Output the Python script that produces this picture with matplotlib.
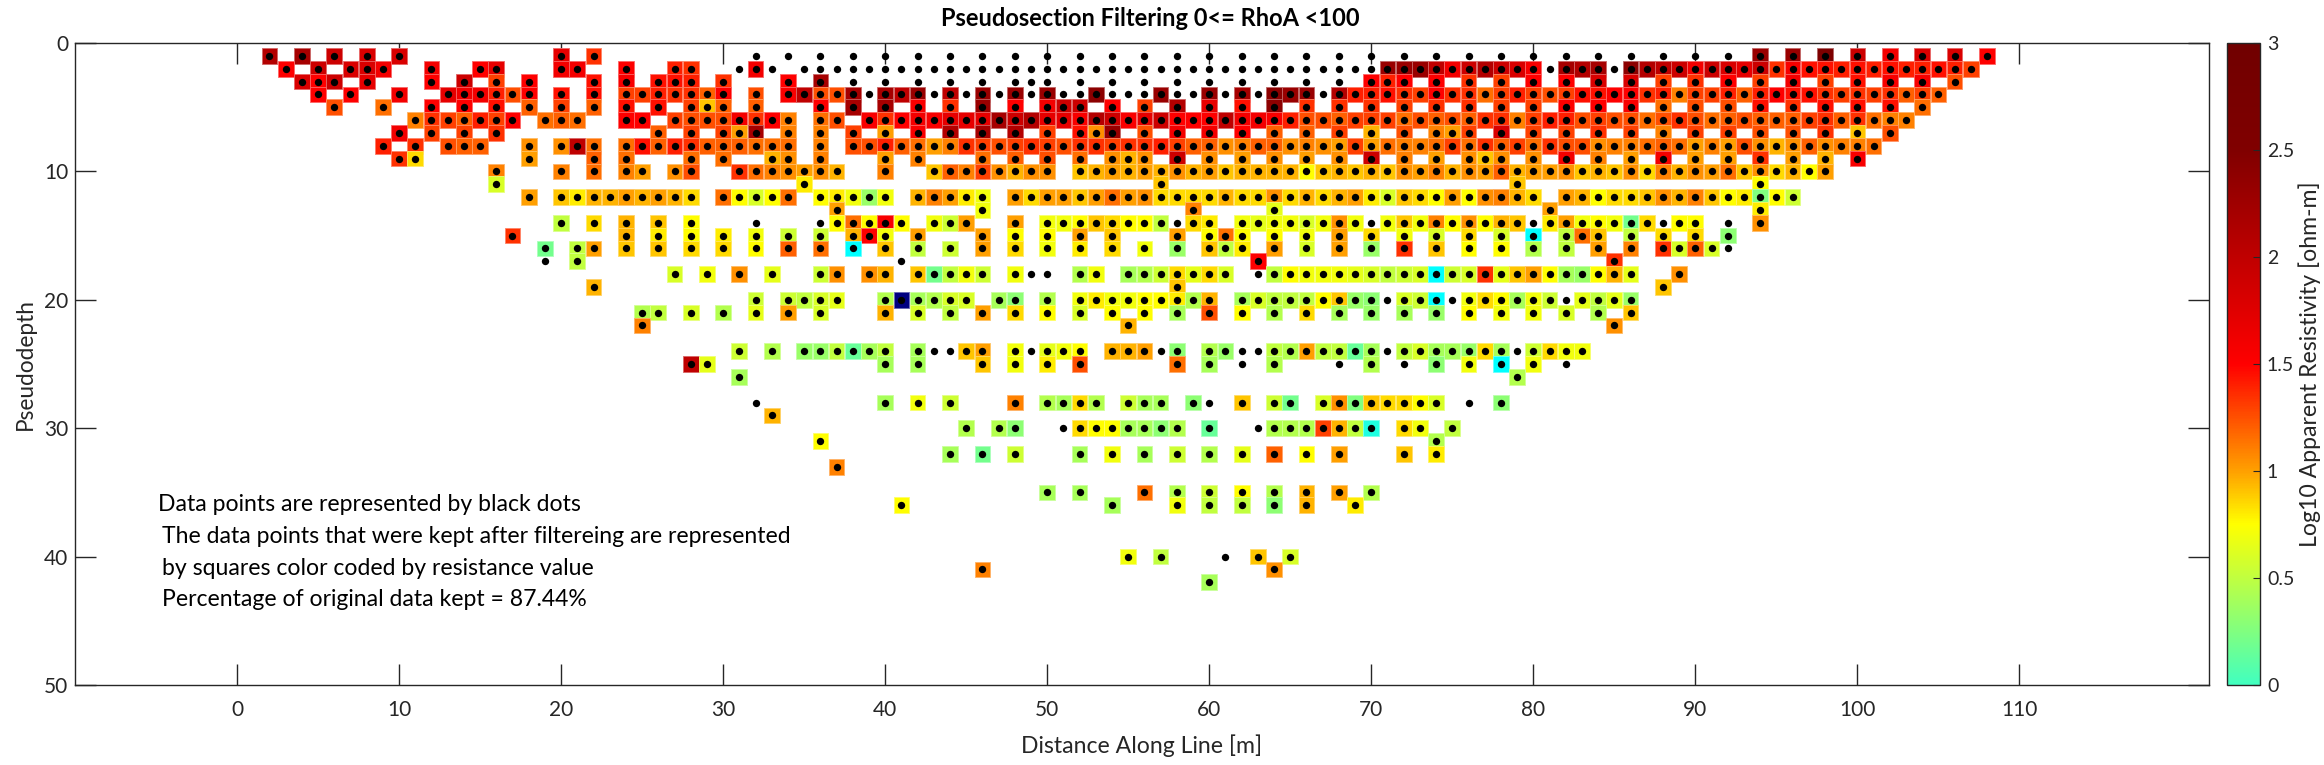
# -*- coding: utf-8 -*-
import numpy as np
import matplotlib
matplotlib.use("Agg")
import matplotlib.pyplot as plt
from matplotlib.colors import LinearSegmentedColormap, Normalize

plt.rcParams['font.family'] = ['Lato', 'DejaVu Sans']

n = np.nan  # data point thrown out by the filter, only the black dot is left

# log10 apparent resistivity read row by row, one pair of lists per pseudodepth
r01_x = [2, 4, 6, 8, 10, 20, 22, 32, 34, 36, 38, 40, 42, 44, 46, 48, 50, 52, 54, 56, 58, 60, 62, 64, 66, 68, 70, 72, 74, 76, 78, 80, 82, 84, 86, 88, 90, 92, 94, 96, 98, 100, 102, 104, 106, 108]
r01_v = [2.1, 2.2, 1.9, 1.8, 1.8, 1.7, 1.35, n, n, n, n, n, n, n, n, n, n, n, n, n, n, n, n, n, n, n, n, n, n, n, n, n, n, n, n, n, n, n, 2.3, 2.3, 2.6, 1.9, 1.6, 1.8, 1.8, 1.5]
r02_x = [3, 5, 7, 8, 9, 12, 15, 16, 20, 21, 24, 27, 28, 31, 32, 33, 35, 36, 37] + list(range(38, 108))
r02_v = [1.5, 1.9, 1.8, 1.8, 1.6, 1.6, 1.5, 1.7, 1.6, 1.6, 1.5, 1.4, 1.35, n, 1.6, n, n, n, n] + [n] * 33 + [2.3, 2.3, 2.3, 2.0, 1.6, 1.9, 2.1, 1.9, 1.8, 1.55, n, 2.2, 2.1, 2.2, n, 2.4, 2.1, 2.0, 1.9, 1.6, 1.9, 1.8, 1.7, 1.9, 1.35, 1.55, 1.45, 1.45, 1.4, 1.45, 1.4, 1.45, 1.4, 1.4, 1.45, 1.4, 1.3]
r03_x = [4, 5, 6, 8, 12, 14, 16, 18, 22, 24, 26, 27, 28, 30, 34, 36, 38, 40, 42, 44, 46, 48, 49, 50, 52, 54, 56, 58, 60, 62, 64, 66, 68, 70, 71, 72, 74, 76, 78, 80, 82, 84, 86, 88, 90, 92, 94, 96, 98, 100, 102, 104, 106]
r03_v = [1.8, 1.5, 1.9, 1.7, 1.5, 1.9, 1.3, 1.5, 1.45, 1.55, 1.45, 1.45, 1.4, 1.35, 1.5, 2.2, n, n, n, n, n, n, n, n, n, n, n, n, n, n, n, n, n, 1.5, 1.4, 1.5, 1.5, 1.35, 1.3, 1.5, 1.5, 1.8, 1.8, 1.3, 1.35, 1.5, 1.3, 1.6, 1.3, 1.45, 1.55, 1.55, 1.25]
r04_x = [5, 7, 10, 13, 14, 15, 16, 17, 18, 20, 22, 24, 25, 26, 27, 28, 29, 30, 32] + list(range(34, 106))
r04_v = [1.5, 1.5, 1.6, 1.7, 1.6, 1.6, 1.4, 1.25, 1.5, 1.45, 1.45, 1.3, 1.3, 1.4, 1.35, 1.35, 1.2, 1.5, 1.25,
         1.55, 2.0, 1.25, 1.25, 2.2, n, 2.2, 2.0, 2.3, n, 2.0, n, 2.3, n, 2.3, n, 2.3, n, n, 2.4, n, n, n, 2.3, n, n, 2.3, n, 2.2, n, 2.4, 2.3, 2.3, n, 2.1, 1.4, 1.4, 1.45, 1.35, 1.3, 1.5, 1.35, 1.35, 1.15, 1.3, 1.4, 1.3, 1.25, 1.3, 1.45, 1.45, 1.5, 1.5, 1.35, 1.4, 1.1, 1.3, 1.3, 1.4, 1.2, 1.4, 1.5, 1.45, 1.45, 1.35, 1.3, 1.35, 1.3, 1.35, 1.2, 1.3, 1.2]
r05_x = [6, 9, 12, 14, 16, 18, 20, 22, 24, 26, 28, 29, 30, 32, 36, 38, 40, 42, 44, 46, 48, 50, 51, 52, 54, 56, 58, 60, 62, 64, 66, 68, 70, 72, 74, 76, 78, 80, 82, 84, 86, 88, 90, 92, 94, 96, 98, 100, 102, 104]
r05_v = [1.25, 1.15, 1.5, 1.5, 1.45, 1.2, 1.3, 1.2, 1.45, 1.45, 1.3, 0.9, 1.2, 1.2, 1.5, 2.2, 2.2, 1.55, 1.35, 2.3, 1.5, 1.6, 1.9, 1.9, 1.5, 1.3, 2.1, 1.7, 1.45, 2.4, 1.35, 1.35, 1.35, 1.3, 1.35, 1.35, 1.3, 1.3, 1.5, 1.5, 1.55, 1.15, 1.25, 1.25, 1.45, 1.35, 1.45, 1.45, 1.45, 1.15]
r06_x = [11, 12, 13, 14, 15, 16, 17, 19, 20, 21, 24, 25, 27, 28, 29, 30, 31, 32, 33, 34, 36, 37] + list(range(39, 104))
r06_v = [1.1, 1.35, 1.3, 1.2, 1.4, 1.3, 1.5, 1.15, 1.2, 1.15, 1.5, 1.5, 1.3, 1.25, 1.25, 1.25, 1.6, 1.35, 1.5, 1.1, 1.15, 1.25,
         1.55, 1.35, 1.5, 1.6, 1.55, 1.7, 1.7, 1.7, 2.2, 1.9, 2.1, 1.7, 1.7, 1.55, 2.1, 1.9, 1.55, 1.7, 1.9, 1.5, 1.5, 1.5, 2.0, 1.6, 1.6, 1.55, 1.4, 1.25, 1.25, 1.2, 1.3, 1.3, 1.3, 1.15, 1.25, 1.2, 1.25, 1.2, 1.35, 1.35, 1.1, 1.3, 1.4, 1.4, 1.25, 1.3, 1.25, 1.25, 1.15, 1.25, 1.35, 1.25, 1.15, 1.2, 1.25, 1.2, 1.2, 1.2, 1.3, 1.35, 1.2, 1.35, 1.15, 1.1, 1.1]
r07_x = [10, 12, 14, 16, 26, 28, 30, 31, 32, 34, 36, 38, 40, 42, 44, 46, 48, 50, 52, 53, 54, 56, 58, 60, 62, 64, 66, 68, 70, 72, 74, 75, 76, 78, 80, 82, 84, 86, 88, 90, 92, 94, 96, 98, 100, 102]
r07_v = [1.6, 1.3, 1.3, 1.35, 1.2, 1.3, 1.3, 1.0, 2.2, 1.1, 1.1, 1.3, 1.0, 1.55, 2.1, 2.2, 2.1, 1.3, 1.45, 1.05, 2.3, 1.25, 1.6, 1.6, 1.5, 1.2, 1.2, 1.3, 0.95, 1.25, 1.1, 1.0, 1.3, 1.8, 1.3, 1.3, 1.35, 1.3, 1.1, 1.3, 1.3, 1.25, 1.25, 1.35, 0.9, 1.25]
r08_x = [9, 11, 13, 14, 15, 18, 20, 21, 22, 24, 25, 26, 27, 28, 29, 30, 31, 32, 33, 34, 36] + list(range(38, 102))
r08_v = [1.4, 1.35, 1.25, 1.2, 1.2, 1.05, 1.05, 2.0, 1.15, 1.15, 1.45, 1.2, 1.4, 1.35, 1.2, 1.2, 1.2, 1.15, 1.15, 1.15, 1.1,
         1.25, 1.25, 1.4, 1.2, 1.15, 1.0, 1.1, 1.35, 1.3, 1.25, 1.3, 1.35, 1.3, 1.25, 1.35, 1.35, 1.3, 1.35, 1.35, 1.4, 1.3, 1.2, 1.2, 1.05, 1.1, 1.2, 1.2, 1.05, 1.1, 1.05, 1.0, 1.3, 1.0, 1.15, 1.1, 1.1, 1.15, 1.3, 1.15, 1.35, 1.2, 1.3, 1.15, 1.35, 1.25, 1.25, 1.05, 1.1, 1.1, 1.15, 1.2, 1.15, 1.0, 1.1, 1.0, 1.25, 1.05, 0.95, 1.05, 1.2, 1.05, 1.1, 1.1, 1.15]
r09_x = [10, 11, 18, 22, 24, 28, 30, 33, 34, 36, 40, 42, 46, 48, 50, 52, 54, 55, 56, 58, 60, 62, 64, 66, 68, 70, 72, 74, 76, 77, 78, 80, 82, 84, 86, 88, 90, 92, 94, 96, 98, 100]
r09_v = [1.35, 0.85, 1.0, 1.2, 1.15, 1.15, 1.15, 0.95, 1.05, 1.1, 1.0, 1.1, 1.15, 1.2, 1.25, 1.15, 1.05, 0.95, 1.05, 1.9, 1.05, 1.0, 1.05, 1.0, 1.05, 1.9, 1.1, 1.0, 1.05, 0.9, 1.05, 1.05, 1.6, 1.1, 1.0, 1.6, 1.0, 1.0, 1.35, 1.0, 0.95, 1.55]
r10_x = [16, 20, 22, 24, 25, 27, 28, 31, 32, 33, 34, 35, 36, 37, 40, 43, 44, 45, 46, 47, 48, 49, 50] + list(range(52, 99))
r10_v = [1.1, 1.1, 1.15, 1.1, 1.0, 1.05, 1.25, 1.35, 1.15, 1.1, 1.05, 1.0, 1.05, 0.95, 1.1, 0.9, 1.2, 1.1, 1.3, 1.05, 0.95, 1.05, 1.05,
         0.9, 0.95, 1.0, 0.95, 1.0, 0.95, 1.05, 0.95, 1.0, 0.9, 0.95, 0.95, 0.95, 0.95, 0.75, 0.9, 0.95, 0.9, 0.95, 0.9, 1.05, 1.0, 1.1, 0.95, 1.05, 1.0, 1.2, 0.95, 1.0, 1.0, 1.05, 0.9, 0.95, 0.9, 1.05, 0.85, 1.1, 0.95, 1.05, 1.0, 1.15, 0.9, 1.05, 0.85, 0.95, 0.75, 1.0]
r11_x = [16, 35, 57, 79, 94]
r11_v = [0.6, 0.8, 0.9, 0.9, 0.75]
r12_x = [18, 20, 21, 22, 23, 24, 25, 26, 27, 28, 30, 31, 32, 33, 34, 36, 37, 38, 39, 40, 42, 43, 44, 45, 46] + list(range(48, 81)) + list(range(82, 97))
r12_v = [1.0, 0.9, 0.8, 0.95, 0.95, 1.0, 0.95, 1.0, 0.95, 0.85, 1.15, 0.75, 0.6, 0.75, 1.15, 0.75, 0.8, 0.7, 0.35, 0.7, 0.95, 1.1, 1.0, 0.8, 0.7,
         1.0, 0.85, 1.0, 1.0, 0.9, 1.0, 1.15, 1.0, 1.05, 0.85, 0.85, 0.85, 0.85, 0.95, 0.85, 0.85, 1.05, 0.85, 0.95, 0.85, 0.95, 1.0, 0.8, 0.6, 0.9, 0.85, 0.75, 1.0, 0.75, 1.05, 1.1, 0.95, 0.85,
         1.0, 0.95, 0.75, 0.85, 0.85, 0.9, 1.05, 0.95, 1.1, 0.9, 0.75, 0.8, 0.25, 0.75, 0.55]
r13_x = [37, 46, 59, 64, 81, 94]
r13_v = [1.0, 0.7, 1.1, 0.65, 1.0, 0.8]
r14_x = [20, 22, 24, 26, 28, 32, 36, 37, 38, 39, 40, 41, 43, 44, 45, 48, 50, 51, 52, 53, 54, 55, 56, 57, 58, 59, 60, 62, 63, 64, 65, 66, 67, 68, 69, 70, 71, 72, 73, 74, 75, 76, 77, 78, 79, 80, 81, 82, 83, 84, 85, 86, 87, 88, 89, 90, 92, 94]
r14_v = [0.5, 0.85, 0.95, 0.9, 0.75, n, n, 0.75, 1.15, 0.75, 1.55, 0.75, 0.7, 0.55, 1.0, 1.0, 0.7, 0.7, 0.75, 0.9, 0.85, 0.75, 0.75, 0.5, n, 0.85, 0.8, 0.7, 0.65, 0.7, 0.7, 0.6, 0.7, 1.05, 0.7, n, 0.7, 0.9, 0.7, 1.1, 0.75, 1.05, 0.75, 0.95, 0.9, n, 0.8, 1.0, 0.7, 0.75, 0.7, 0.2, 0.85, n, 0.75, 0.75, n, 1.05]
r15_x = [17, 24, 26, 28, 30, 32, 34, 36, 38, 39, 40, 42, 46, 48, 50, 52, 54, 58, 60, 61, 62, 64, 66, 68, 70, 72, 74, 76, 78, 80, 82, 83, 84, 86, 88, 90, 92]
r15_v = [1.35, 0.95, 0.8, 0.75, 0.8, 0.7, 0.55, 0.55, 0.95, 1.5, 0.7, 1.0, 1.0, 0.75, 0.75, 1.0, 0.9, 1.0, 0.75, 1.15, 0.75, 0.75, 0.7, 1.0, 0.85, 0.7, 0.6, 0.85, 0.6, -0.1, 0.5, 1.15, 0.9, 0.5, 0.85, 0.85, 0.3]
r16_x = [19, 21, 22, 24, 26, 28, 30, 32, 34, 36, 38, 40, 42, 44, 46, 48, 50, 52, 54, 56, 58, 60, 61, 62, 64, 66, 68, 70, 72, 74, 76, 78, 80, 82, 84, 86, 88, 89, 90, 91, 92]
r16_v = [0.2, 0.5, 1.0, 0.9, 0.9, 0.85, 0.85, 0.75, 1.2, 1.15, -0.1, 0.9, 0.5, 0.55, 1.0, 0.85, 0.7, 0.8, 0.85, 0.7, 0.35, 0.9, 0.5, 0.8, 1.0, 0.6, 1.0, 0.35, 1.35, 0.9, 0.75, 0.75, 0.45, 0.5, 1.0, 1.1, 1.35, 0.6, 1.2, 0.6, n]
r17_x = [19, 21, 41, 63, 85]
r17_v = [n, 0.5, n, 1.5, 1.35]
r18_x = [27, 29, 31, 33, 36, 37, 39, 40, 42, 43, 44, 45, 46, 48, 49, 50, 52, 53, 55, 56, 57, 58, 59, 60, 61, 63, 64, 65, 66, 67, 68, 69, 70, 71, 72, 73, 74, 75, 76, 77, 78, 79, 80, 81, 82, 83, 84, 85, 86, 89]
r18_v = [0.6, 0.7, 1.05, 0.65, 0.55, 1.05, 1.05, 0.95, 0.9, 0.2, 0.5, 0.7, 0.55, 0.7, n, n, 0.45, 0.7, 0.4, 0.45, 0.55, 0.85, 0.65, 0.85, 0.6, n, 0.5, 0.75, 0.7, 0.7, 0.7, 0.65, 0.6, 0.5, 0.55, 0.6, -0.1, 0.55, 0.6, 1.35, 0.65, 0.9, 1.0, 0.75, 0.4, 0.35, 0.75, 0.95, 0.65, 1.05]
r19_x = [22, 58, 88]
r19_v = [0.95, 0.9, 0.9]
r20_x = [32, 34, 35, 36, 37, 40, 41, 42, 43, 44, 45, 47, 48, 50, 52, 53, 54, 55, 56, 57, 58, 59, 60, 62, 63, 64, 65, 66, 67, 68, 69, 70, 71, 72, 73, 74, 75, 76, 77, 78, 79, 80, 81, 82, 83, 84, 85, 86]
r20_v = [0.55, 0.55, 0.5, 0.6, 0.65, 0.45, -1.0, 0.4, 0.45, 0.6, 0.6, 0.4, 0.3, 0.45, 0.7, 0.8, 0.7, 0.7, 0.75, 0.75, 0.8, 0.45, 0.95, 0.4, 0.6, 0.5, 0.5, 0.5, 0.75, 0.9, 0.35, 0.3, n, 0.6, 0.55, -0.1, n, 0.7, 0.85, 0.75, 0.4, 0.7, 0.55, n, 0.65, 0.5, 0.65, 0.35]
r21_x = [25, 26, 28, 30, 32, 34, 36, 40, 42, 44, 46, 48, 50, 52, 54, 56, 58, 60, 62, 64, 66, 68, 70, 72, 74, 76, 78, 80, 82, 84, 86]
r21_v = [0.45, 0.5, 0.6, 0.45, 0.65, 1.0, 0.6, 0.95, 0.6, 0.5, 1.0, 0.85, 0.75, 0.6, 0.75, 0.75, 0.4, 1.25, 0.75, 0.45, 0.85, 0.4, 0.35, 0.4, 0.35, 0.75, 0.7, 0.7, 0.6, 0.45, 0.9]
r22_x = [25, 55, 85]
r22_v = [1.1, 0.95, 1.05]
r24_x = [31, 33, 35, 36, 37, 38, 39, 40, 42, 43, 44, 45, 46, 48, 49, 50, 51, 52, 54, 55, 56, 57, 58, 60, 61, 62, 63, 64, 65, 66, 67, 68, 69, 70, 71, 72, 73, 74, 75, 76, 77, 78, 79, 80, 81, 82, 83]
r24_v = [0.55, 0.45, 0.35, 0.35, 0.5, 0.15, 0.4, 0.5, 0.4, n, n, 0.9, 1.0, 0.7, n, 0.65, 0.7, 0.75, 0.95, 0.95, 1.0, n, 0.3, 0.45, 0.35, n, n, 0.5, 0.45, 1.0, 0.5, 0.5, 0.15, 0.4, n, 0.5, 0.6, 0.4, 0.4, 0.35, 0.85, 0.4, n, 0.55, 0.85, 0.7, 0.7]
r25_x = [28, 29, 40, 42, 46, 48, 50, 52, 58, 60, 62, 64, 68, 70, 72, 74, 76, 78, 80, 82]
r25_v = [2.0, 0.65, 0.4, 0.4, 0.9, 0.7, 0.8, 1.25, 1.15, 0.4, n, 0.45, n, 0.45, n, 0.3, 0.7, -0.1, 0.7, n]
r26_x = [31, 79]
r26_v = [0.4, 0.45]
r28_x = [32, 40, 42, 44, 48, 50, 51, 52, 53, 55, 56, 57, 59, 60, 62, 64, 65, 67, 68, 69, 70, 71, 72, 73, 74, 76, 78]
r28_v = [n, 0.4, 0.7, 0.55, 1.1, 0.45, 0.4, 0.85, 0.45, 0.55, 0.4, 0.4, 0.3, n, 0.9, 0.55, 0.2, 0.6, 1.05, 0.25, 0.9, 0.85, 0.85, 0.75, 0.6, n, 0.3]
r29_x = [33]
r29_v = [0.95]
r30_x = [45, 47, 48, 51, 52, 53, 54, 55, 56, 57, 58, 60, 63, 64, 65, 66, 67, 68, 69, 70, 72, 73, 75]
r30_v = [0.45, 0.45, 0.3, n, 0.85, 0.75, 0.75, 0.4, 0.4, 0.3, 0.45, 0.15, n, 0.45, 0.45, 0.45, 1.3, 0.95, 0.5, -0.05, 0.85, 0.7, 0.5]
r31_x = [36, 74]
r31_v = [0.75, 0.45]
r32_x = [44, 46, 48, 52, 54, 56, 58, 60, 62, 64, 66, 68, 72, 74]
r32_v = [0.4, 0.2, 0.55, 0.4, 0.7, 0.4, 0.55, 0.45, 0.65, 1.2, 0.75, 1.0, 0.9, 0.8]
r33_x = [37]
r33_v = [1.1]
r35_x = [50, 52, 56, 58, 60, 62, 64, 66, 68, 70]
r35_v = [0.4, 0.4, 1.15, 0.45, 0.55, 0.75, 0.45, 0.95, 1.0, 0.45]
r36_x = [41, 54, 58, 60, 62, 64, 66, 69]
r36_v = [0.75, 0.4, 0.7, 0.5, 0.5, 0.3, 0.95, 0.8]
r40_x = [55, 57, 61, 63, 65]
r40_v = [0.7, 0.5, n, 0.9, 0.6]
r41_x = [46, 64]
r41_v = [1.1, 1.05]
r42_x = [60]
r42_v = [0.4]

rows = [(1, r01_x, r01_v), (2, r02_x, r02_v), (3, r03_x, r03_v), (4, r04_x, r04_v), (5, r05_x, r05_v),
        (6, r06_x, r06_v), (7, r07_x, r07_v), (8, r08_x, r08_v), (9, r09_x, r09_v), (10, r10_x, r10_v),
        (11, r11_x, r11_v), (12, r12_x, r12_v), (13, r13_x, r13_v), (14, r14_x, r14_v), (15, r15_x, r15_v),
        (16, r16_x, r16_v), (17, r17_x, r17_v), (18, r18_x, r18_v), (19, r19_x, r19_v), (20, r20_x, r20_v),
        (21, r21_x, r21_v), (22, r22_x, r22_v), (24, r24_x, r24_v), (25, r25_x, r25_v), (26, r26_x, r26_v),
        (28, r28_x, r28_v), (29, r29_x, r29_v), (30, r30_x, r30_v), (31, r31_x, r31_v), (32, r32_x, r32_v),
        (33, r33_x, r33_v), (35, r35_x, r35_v), (36, r36_x, r36_v), (40, r40_x, r40_v), (41, r41_x, r41_v),
        (42, r42_x, r42_v)]

x = np.concatenate([np.array(r[1], dtype=float) for r in rows])
y = np.concatenate([np.full(len(r[1]), r[0], dtype=float) for r in rows])
v = np.concatenate([np.array(r[2], dtype=float) for r in rows])
for r in rows:
    assert len(r[1]) == len(r[2]), r[0]

# colour scale, the part under 0 is not shown on the colorbar
vmin, vmax = -1.0, 3.0
anchors = [(-1.0, '#000080'), (-0.5, '#0000ff'), (-0.1, '#00ffff'), (0.0, '#40ffbf'), (0.25, '#80ff80'),
           (0.5, '#c0ff40'), (0.75, '#ffff00'), (1.0, '#ffa000'), (1.25, '#ff5000'), (1.5, '#ff0000'),
           (2.0, '#c00000'), (2.5, '#800000'), (3.0, '#700000')]
cmap = LinearSegmentedColormap.from_list('rho', [((a - vmin) / (vmax - vmin), c) for a, c in anchors], N=512)
norm = Normalize(vmin, vmax)

W, H = 2324, 765
fig = plt.figure(figsize=(W / 100, H / 100), dpi=100)
ax = fig.add_axes([75 / W, 1 - 685 / H, (2209 - 75) / W, (685 - 43) / H])
cax = fig.add_axes([2227 / W, 1 - 685 / H, 33 / W, (685 - 43) / H])

kept = ~np.isnan(v)
edges = cmap(norm(v[kept]))
edges[:, :3] = edges[:, :3] * 0.6 + 0.4
sc = ax.scatter(x[kept], y[kept], c=v[kept], cmap=cmap, norm=norm, marker='s', s=128,
                edgecolors=edges, linewidths=0.6, zorder=2)
ax.scatter(x, y, c='k', marker='o', s=28, linewidths=0, zorder=3)

ax.set_xlim(-10, 121.7)
ax.set_ylim(50, 0)
ax.set_xticks(np.arange(0, 111, 10))
ax.set_yticks(np.arange(0, 51, 10))
ax.tick_params(direction='in', length=15, width=1, top=True, right=True, labelsize=15,
               color='#262626', labelcolor='#262626')
ax.tick_params(axis='x', pad=11)
ax.tick_params(axis='y', pad=5)
for s in ax.spines.values():
    s.set_color('#262626')
    s.set_linewidth(1)
ax.set_xlabel('Distance Along Line [m]', fontsize=16.6, color='#262626', labelpad=10)
ax.set_ylabel('Pseudodepth', fontsize=16.3, color='#262626', labelpad=6)
ax.set_title('Pseudosection Filtering 0<= RhoA <100', fontsize=17, fontweight='bold', pad=12.5, x=0.504)

cb = fig.colorbar(sc, cax=cax)
cax.set_ylim(0, 3)
cb.set_ticks([0, 0.5, 1, 1.5, 2, 2.5, 3])
cb.set_ticklabels(['0', '0.5', '1', '1.5', '2', '2.5', '3'])
cb.ax.tick_params(direction='in', length=5, width=0.8, labelsize=14, colors='#262626', pad=5)
cb.outline.set_linewidth(1)
cb.outline.set_edgecolor('#262626')
fig.text(2310 / W, 1 - 364 / H, 'Log10 Apparent Resistivity [ohm-m]', rotation=90, fontsize=16.6,
         color='#262626', ha='center', va='center')

ax.text(-4.9, 35.95, 'Data points are represented by black dots', fontsize=16.6, va='center')
ax.text(-4.6, 38.45, 'The data points that were kept after filtereing are represented', fontsize=16.6, va='center')
ax.text(-4.6, 40.95, 'by squares color coded by resistance value', fontsize=16.6, va='center')
ax.text(-4.6, 43.35, 'Percentage of original data kept = 87.44%', fontsize=16.6, va='center')

fig.savefig('out.png', dpi=100)
